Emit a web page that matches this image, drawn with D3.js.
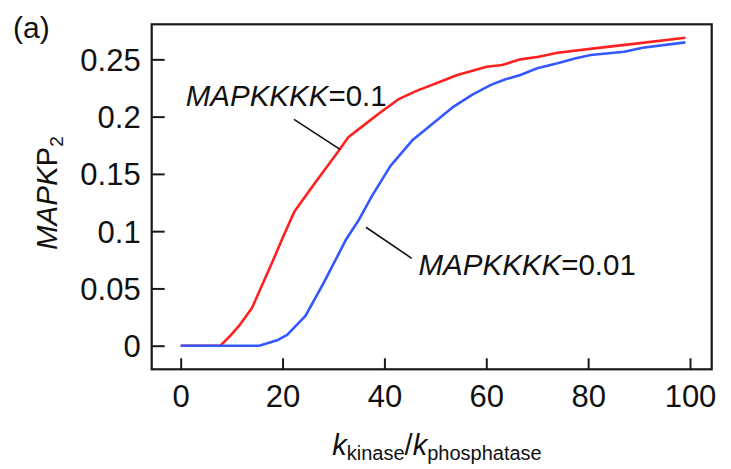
<!DOCTYPE html>
<html>
<head>
    <meta charset="UTF-8">
    <title>MAPKP2 response</title>
    <style>
        body { margin: 0; background: #fff; }
        text { font-family: "Liberation Sans", Arial, Helvetica, sans-serif; fill: #111; }
    </style>
</head>
<body>
    <div id="chart"></div>
    <script src="https://cdn.jsdelivr.net/npm/d3@7"></script>
    <script>

    // ratio values and MAPKP2
    const ratioHigh = [0, 7.8, 9.6, 11.4, 14.0, 15.8, 18.0, 20.1, 22.3, 24.1, 26.5, 28.5, 31.0, 32.9, 36.1, 39.0, 42.7, 46.3, 50.7, 54.3, 60.1, 63.1, 66.7, 70.3, 74.0, 81.2, 88.5, 99.1];
    const mapkHigh = [0, 0, 0.008, 0.017, 0.033, 0.051, 0.073, 0.095, 0.117, 0.128, 0.143, 0.155, 0.170, 0.182, 0.193, 0.203, 0.215, 0.2225, 0.23, 0.2364, 0.2436, 0.2451, 0.25, 0.2523, 0.2558, 0.2596, 0.2633, 0.2688];

    const ratioLow = [0, 15.4, 19.1, 20.9, 24.5, 28.1, 32.5, 35.0, 37.6, 41.2, 45.6, 50.0, 53.6, 57.2, 60.9, 63.8, 66.7, 70.0, 74.0, 77.6, 80.5, 87.1, 90.7, 99.1];
    const mapkLow = [0, 0, 0.005, 0.0094, 0.026, 0.055, 0.093, 0.110, 0.131, 0.157, 0.1799, 0.1958, 0.2088, 0.219, 0.2277, 0.2326, 0.2364, 0.2422, 0.2465, 0.2509, 0.2538, 0.2567, 0.2601, 0.2648];

    const xTicks = [0, 20, 40, 60, 80, 100];
    const yTicks = [0, 0.05, 0.1, 0.15, 0.2, 0.25];
    const yTickLabels = ["0", "0.05", "0.1", "0.15", "0.2", "0.25"];

    // label text position [x, y] and leader line [x1, y1, x2, y2], in data units
    const labelHigh = {value: "=0.1", at: [1.0, 0.2092], leader: [22.25, 0.1976, 31.28, 0.1714]};
    const labelLow = {value: "=0.01", at: [46.7, 0.0617], leader: [36.38, 0.1034, 45.36, 0.0763]};

    const width = 731, height = 469;
    const margin = {top: 24.3, right: 19.3, bottom: 99.7, left: 151.7};
    const w = width - margin.left - margin.right,
          h = height - margin.top - margin.bottom;

    const svg = d3.select("#chart")
        .append("svg")
        .attr("width", width)
        .attr("height", height);

    const g = svg.append("g")
        .attr("transform", `translate(${margin.left}, ${margin.top})`);

    const x = d3.scaleLinear().domain([-5.69, 104.26]).range([0, w]);
    const y = d3.scaleLinear().domain([-0.0206, 0.2806]).range([h, 0]);

    const fontSize = 31;

    // axes, ticks pointing inwards
    const xAxis = g.append("g")
        .attr("transform", `translate(0, ${h})`)
        .call(d3.axisBottom(x).tickValues(xTicks).tickSize(-11).tickPadding(14).tickFormat(d3.format("d")));
    const yAxis = g.append("g")
        .call(d3.axisLeft(y).tickValues(yTicks).tickSize(-13).tickPadding(11).tickFormat((d, i) => yTickLabels[i]));

    [xAxis, yAxis].forEach(ax => {
        ax.select(".domain").remove();
        ax.selectAll(".tick line").attr("stroke", "#1a1a1a").attr("stroke-width", 2);
        ax.selectAll(".tick text")
            .attr("font-size", fontSize)
            .attr("font-family", "Liberation Sans, Arial, sans-serif")
            .attr("fill", "#111");
    });
    xAxis.selectAll(".tick text").attr("dy", "0.71em").attr("y", 16);
    yAxis.selectAll(".tick text").attr("dy", "0.35em");

    // curves
    const line = d3.line()
        .x(d => x(d[0]))
        .y(d => y(d[1]));

    const series = [
        {xs: ratioHigh, ys: mapkHigh, color: "#ff2020"},
        {xs: ratioLow, ys: mapkLow, color: "#3358ff"}
    ];
    g.selectAll(".curve")
        .data(series)
        .join("path")
        .attr("class", "curve")
        .attr("fill", "none")
        .attr("stroke", d => d.color)
        .attr("stroke-width", 2.6)
        .attr("stroke-linejoin", "round")
        .attr("d", d => line(d.xs.map((v, i) => [v, d.ys[i]])));

    // frame
    g.append("rect")
        .attr("width", w)
        .attr("height", h)
        .attr("fill", "none")
        .attr("stroke", "#1a1a1a")
        .attr("stroke-width", 2.2);

    // annotations
    [labelHigh, labelLow].forEach(lab => {
        g.append("line")
            .attr("x1", x(lab.leader[0])).attr("y1", y(lab.leader[1]))
            .attr("x2", x(lab.leader[2])).attr("y2", y(lab.leader[3]))
            .attr("stroke", "#111")
            .attr("stroke-width", 1.6);
        const t = g.append("text")
            .attr("x", x(lab.at[0]))
            .attr("y", y(lab.at[1]))
            .attr("font-size", 29.5);
        t.append("tspan").attr("font-style", "italic").text("MAPKKKK");
        t.append("tspan").text(lab.value);
    });

    // y title: MAPKP2
    const yTitle = svg.append("text")
        .attr("transform", "translate(57, 250) rotate(-90)")
        .attr("font-size", 29.5);
    yTitle.append("tspan").attr("font-style", "italic").text("MAPK");
    yTitle.append("tspan").text("P");
    yTitle.append("tspan").attr("font-size", 19).attr("dy", 6).text("2");

    // x title: k_kinase / k_phosphatase
    const xTitle = svg.append("text")
        .attr("x", 437)
        .attr("y", 455)
        .attr("text-anchor", "middle")
        .attr("font-size", 29);
    xTitle.append("tspan").attr("font-style", "italic").text("k");
    xTitle.append("tspan").attr("font-size", 20).attr("dy", 5).text("kinase");
    xTitle.append("tspan").attr("dy", -5).text("/");
    xTitle.append("tspan").attr("font-style", "italic").text("k");
    xTitle.append("tspan").attr("font-size", 20).attr("dy", 5).text("phosphatase");

    // panel letter
    svg.append("text")
        .attr("x", 13)
        .attr("y", 38)
        .attr("font-size", 30)
        .text("(a)");

    </script>
</body>
</html>
